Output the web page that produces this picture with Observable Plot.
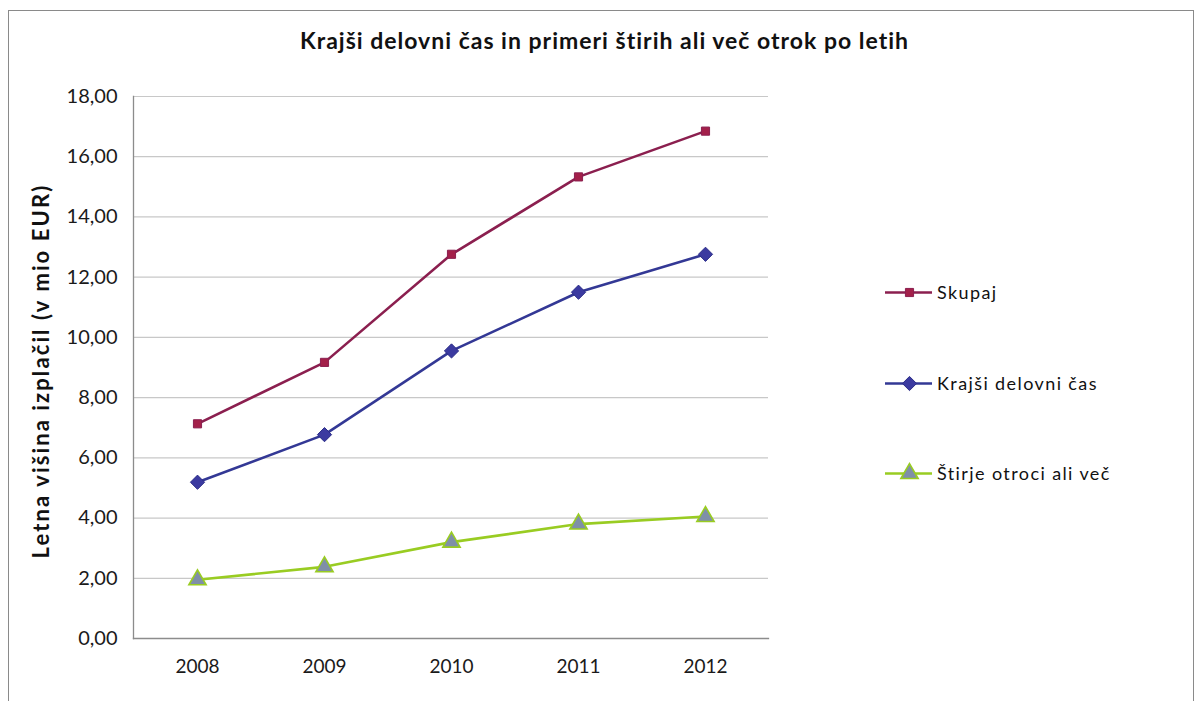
<!DOCTYPE html>
<html>
<head>
<meta charset="utf-8">
<script src="https://cdn.jsdelivr.net/npm/d3@7"></script>
<script src="https://cdn.jsdelivr.net/npm/@observablehq/plot@0.6"></script>
<style>
  html, body { margin: 0; padding: 0; background: #fff; }
  body { width: 1199px; height: 701px; position: relative; overflow: hidden; font-family: Lato, "Open Sans", sans-serif; }
  #border { position: absolute; left: 8px; top: 10px; width: 1186px; height: 700px; border: 1px solid #8a8a8a; box-sizing: border-box; }
  #title { position: absolute; left: 5px; width: 1199px; top: 26px; text-align: center; font-weight: bold; font-size: 23px; letter-spacing: 1px; color: #111; }
  #ylabel { position: absolute; left: 40px; top: 371px; transform: translate(-50%, -50%) rotate(-90deg); white-space: nowrap; font-weight: bold; font-size: 22px; letter-spacing: 2.1px; color: #111; }
  #chart { position: absolute; left: 0; top: 0; }
  #legend { position: absolute; left: 884px; top: 0; font-size: 18px; color: #111; }
  .item { position: absolute; left: 0; display: flex; align-items: center; white-space: nowrap; letter-spacing: 1.4px; }
  .item svg { margin-right: 3px; }
</style>
</head>
<body>
<div id="border"></div>
<div id="chart"></div>
<div id="title"></div>
<div id="ylabel"></div>
<div id="legend"></div>
<script>
const titleText = "Krajši delovni čas in primeri štirih ali več otrok po letih";
const yTitle = "Letna višina izplačil (v mio EUR)";
const years = ["2008", "2009", "2010", "2011", "2012"];
const seriesNames = ["Skupaj", "Krajši delovni čas", "Štirje otroci ali več"];
const skupaj = [7.13, 9.17, 12.76, 15.33, 16.85];
const krajsi = [5.19, 6.77, 9.55, 11.50, 12.76];
const stirje = [1.95, 2.38, 3.20, 3.80, 4.05];
const yTicks = [0, 2, 4, 6, 8, 10, 12, 14, 16, 18];

const lineColors = ["#8b1f4f", "#333895", "#99cc22"];
const markFill = ["#a3204a", "#3b3aa0", "#7f8fa8"];
const markStroke = ["#8b1f4f", "#2b2d88", "#99cc22"];
const symbols = ["square", "diamond2", "triangle"];
const radii = [4.6, 6.4, 6.4];

const allValues = [skupaj, krajsi, stirje];
const rows = [];
allValues.forEach((vals, si) => vals.forEach((v, i) => rows.push({series: seriesNames[si], year: years[i], value: v, si})));

document.getElementById("title").textContent = titleText;
document.getElementById("ylabel").textContent = yTitle;

const fmt = d => d.toFixed(2).replace(".", ",");

const marks = [
  Plot.gridY(yTicks, {stroke: "#c8c8c8", strokeOpacity: 1, strokeWidth: 1.2}),
  Plot.axisY(yTicks, {tickSize: 0, tickPadding: 16, tickFormat: fmt, fontSize: 20, label: null, fill: "#1a1a1a"}),
  Plot.axisX({tickSize: 0, tickPadding: 21, fontSize: 19, label: null, fill: "#1a1a1a"}),
  Plot.frame({anchor: "left", stroke: "#8c8c8c", strokeWidth: 1.3}),
  Plot.frame({anchor: "bottom", stroke: "#8c8c8c", strokeWidth: 1.3})
];
seriesNames.forEach((name, si) => {
  const data = rows.filter(r => r.si === si);
  marks.push(Plot.line(data, {x: "year", y: "value", stroke: lineColors[si], strokeWidth: 2.6}));
  marks.push(Plot.dot(data, {x: "year", y: "value", symbol: symbols[si], r: radii[si], fill: markFill[si], stroke: markStroke[si], strokeWidth: si === 2 ? 1.6 : 1}));
});

const chart = Plot.plot({
  width: 1199,
  height: 701,
  marginLeft: 133,
  marginRight: 431,
  marginTop: 96,
  marginBottom: 63,
  style: {fontFamily: "Lato, 'Open Sans', sans-serif", fontSize: "19px", background: "transparent", overflow: "visible"},
  x: {type: "point", domain: years, padding: 0.5, label: null},
  y: {domain: [0, 18], label: null},
  marks
});
document.getElementById("chart").appendChild(chart);

// legend
const legendTops = [292, 383, 473];
const legend = document.getElementById("legend");
seriesNames.forEach((name, si) => {
  const item = document.createElement("div");
  item.className = "item";
  item.style.top = (legendTops[si] - 11) + "px";
  const sw = Plot.plot({
    width: 50, height: 22, margin: 0,
    x: {domain: [0, 1], axis: null}, y: {domain: [0, 1], axis: null},
    style: {background: "transparent", overflow: "visible"},
    marks: [
      Plot.ruleY([0.5], {x1: 0.02, x2: 0.96, stroke: lineColors[si], strokeWidth: 2.6}),
      Plot.dot([0], {x: 0.5, y: 0.5, symbol: symbols[si], r: radii[si], fill: markFill[si], stroke: markStroke[si], strokeWidth: si === 2 ? 1.6 : 1})
    ]
  });
  item.appendChild(sw);
  const label = document.createElement("span");
  label.textContent = name;
  item.appendChild(label);
  legend.appendChild(item);
});
</script>
</body>
</html>
